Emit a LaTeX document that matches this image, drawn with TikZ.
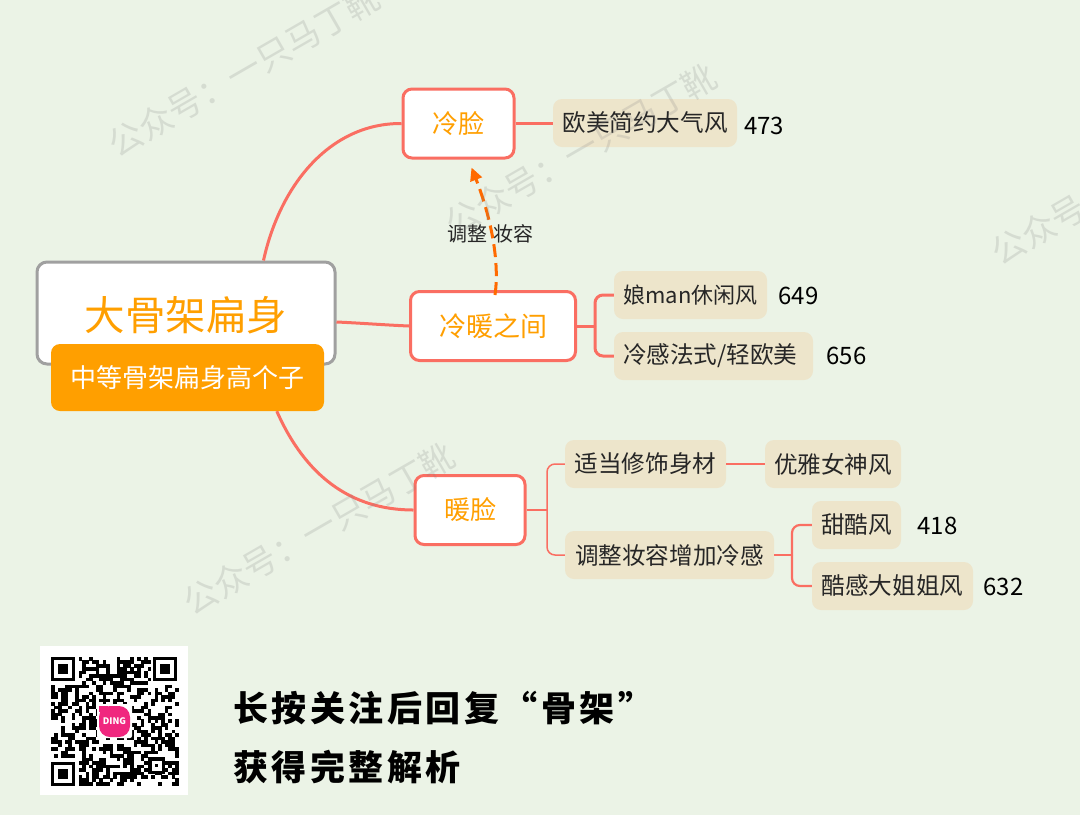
\documentclass[tikz,border=0pt]{standalone}
\usepackage{fontspec}
\setmainfont{Noto Sans CJK SC}
\usetikzlibrary{calc,arrows.meta}
\definecolor{bgc}{HTML}{EBF3E6}
\definecolor{redl}{HTML}{FA6E62}
\definecolor{orng}{HTML}{FF9F00}
\definecolor{beige}{HTML}{EDE5CB}
\definecolor{dashc}{HTML}{FF6A00}
\definecolor{rootg}{HTML}{A0A0A0}
\definecolor{pinkl}{HTML}{F0277F}
\newcommand{\fs}[1]{\fontsize{#1}{#1}\selectfont}
\newcommand{\qrfinder}[2]{%
  \fill[black] (#1,#2) rectangle ++(24.2,24.2);
  \fill[white] (#1+3.45,#2+3.45) rectangle ++(17.3,17.3);
  \fill[black] (#1+6.9,#2+6.9) rectangle ++(10.4,10.4);}
\tikzset{
  main/.style={draw=redl,line width=3pt,fill=white,rounded corners=9pt,inner sep=0pt,text=orng,font=\fs{26}},
  leaf/.style={fill=beige,rounded corners=9pt,inner sep=0pt,minimum height=48pt,text=black!85,font=\fs{23.6}},
  num/.style={inner sep=0pt,text=black,font=\fs{24}},
  thick link/.style={draw=redl,line width=3pt},
  mid link/.style={draw=redl,line width=2.2pt,rounded corners=8pt},
  thin link/.style={draw=redl,line width=1.5pt,rounded corners=8pt},
  wm/.style={inner sep=0pt,text=gray,opacity=0.2,rotate=30,font=\fs{34}},
  foot/.style={anchor=west,inner sep=0pt,text=black,font=\bfseries\fs{35}\addfontfeature{LetterSpace=10}},
}
\begin{document}
\begin{tikzpicture}[x=1pt,y=-1pt]
\useasboundingbox (0,0) rectangle (1080,815);
\fill[bgc] (0,0) rectangle (1080,815);

% nodes
\node[draw=rootg,line width=3pt,fill=white,rounded corners=10pt,minimum width=298pt,minimum height=102pt,inner sep=0pt] (root) at (186,313) {};
\node[inner sep=0pt,text=orng,font=\fs{40.5}] (roott) at (186,315) {大骨架扁身};
\node[fill=orng,rounded corners=9pt,minimum width=273pt,minimum height=67pt,inner sep=0pt,text=white,font=\fs{26}] (sub) at (187.5,377.5) {中等骨架扁身高个子};

\node[main,minimum width=111pt,minimum height=69pt] (cold) at (458.5,123.5) {冷脸};
\node[main,minimum width=165pt,minimum height=69pt,font=\fs{27}] (mid) at (493,326) {冷暖之间};
\node[main,minimum width=110pt,minimum height=69pt] (warm) at (470,510) {暖脸};

\node[leaf,minimum width=184pt] (l1) at (645,123) {欧美简约大气风};
\node[num] (n1) at (764,126) {473};
\node[leaf,minimum width=153pt,font=\fs{22}] (l2) at (690.5,295) {娘man休闲风};
\node[num] (n2) at (798.5,296) {649};
\node[leaf,minimum width=199pt,text width=181pt,align=left] (l3) at (713.5,356) {冷感法式/轻欧美};
\node[num] (n3) at (846.5,356) {656};
\node[leaf,minimum width=161pt] (l4) at (645.5,464) {适当修饰身材};
\node[leaf,minimum width=136pt] (l5) at (833,464) {优雅女神风};
\node[leaf,minimum width=209pt] (l6) at (669.5,555) {调整妆容增加冷感};
\node[leaf,minimum width=89pt] (l7) at (856.5,525) {甜酷风};
\node[num] (n7) at (937.5,526) {418};
\node[leaf,minimum width=161pt] (l8) at (892.5,586) {酷感大姐姐风};
\node[num] (n8) at (1003.5,587) {632};

% connectors
\draw[thick link] ($(root.north west)+(228,0)$) .. controls (280,185) and (330,123) .. (cold.west);
\draw[thick link] (root.east) ++(0,9) .. controls (360,323) and (385,325) .. (mid.west);
\draw[thick link] ($(sub.south west)+(226,0)$) .. controls (305,475) and (350,510) .. (warm.west);
\draw[thick link] (cold.east |- l1.west) -- (l1.west);
\coordinate (mj) at (595,326);
\draw[thick link] (mid.east) -- (mj);
\draw[thick link,rounded corners=8pt] (mj) |- (l2.west);
\draw[thick link,rounded corners=8pt] (mj) |- (l3.west);
\coordinate (wj) at (547,510);
\draw[thin link] (warm.east) -- (wj);
\draw[thin link] (wj) |- (l4.west);
\draw[thin link] (wj) |- (l6.west);
\draw[thin link] (l4.east) -- (l5.west);
\coordinate (tj) at (792,555);
\draw[mid link] (l6.east) -- (tj);
\draw[mid link] (tj) |- (l7.west);
\draw[mid link] (tj) |- (l8.west);

% dashed relation
\coordinate (ds) at ($(mid.north)+(2,5)$);
\coordinate (de) at ($(cold.south)+(13,8)$);
\draw[dashc,line width=3pt,dash pattern=on 13pt off 6pt,-{Triangle[length=13pt,width=12pt]}] (ds) .. controls (500,260) and (490,215) .. (de);
\node[inner sep=0pt,text=black!85,font=\fs{20}] (rel) at (490.5,234) {调整\,\,妆容};

% QR card
\fill[white] (40,646) rectangle (188,795);
\pgfmathsetseed{11}
\foreach \i in {0,...,36}{\foreach \j in {0,...,36}{
  \pgfmathtruncatemacro\qrskip{((\i<8&&\j<8)||(\i>28&&\j<8)||(\i<8&&\j>28)||(\i>27&&\i<33&&\j>27&&\j<33))?1:0}
  \pgfmathrandominteger{\qrbit}{0}{99}
  \ifnum\qrskip=0 \ifnum\qrbit<50
    \fill[black] (51+3.45*\i,657+3.47*\j) rectangle ++(3.6,3.6);
  \fi\fi
}}
\qrfinder{51}{657}
\qrfinder{153}{657}
\qrfinder{51}{762}
\fill[black] (148,757) rectangle ++(17,17);
\fill[white] (151.5,760.5) rectangle ++(10,10);
\fill[black] (155,764) rectangle ++(3,3);
\fill[white,rounded corners=2pt] (97,704) rectangle (132,738);
\fill[pinkl,rounded corners=11pt] (99,706) rectangle (130,737);
\fill[pinkl] (99,706) rectangle (108,712);
\node[inner sep=0pt,text=white,font=\bfseries\fs{9}] (logo) at (114.5,721) {DING};

% footer text
\node[foot] (f1) at (233,708) {长按关注后回复“骨架”};
\node[foot] (f2) at (233,767) {获得完整解析};

% watermarks
\begin{scope}
\clip (0,0) rectangle (1080,815);
\node[wm] (w1) at (244,71) {公众号：一只马丁靴};
\node[wm] (w2) at (581,150) {公众号：一只马丁靴};
\node[wm] (w3) at (319,529) {公众号：一只马丁靴};
\node[wm] (w4) at (1127,179) {公众号：一只马丁靴};
\end{scope}
\end{tikzpicture}
\end{document}
